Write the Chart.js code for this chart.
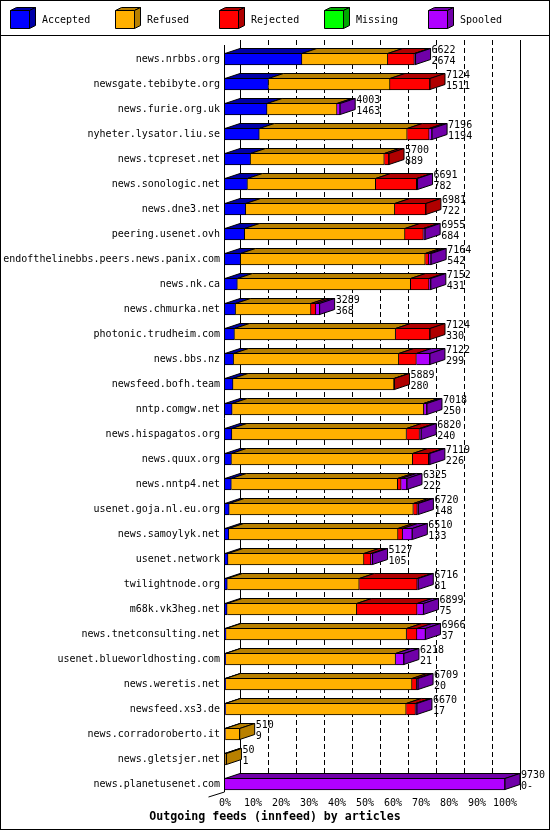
<!DOCTYPE html>
<html lang="en">
<head>
<meta charset="UTF-8">
<title>Outgoing feeds (innfeed) by articles</title>
<script src="https://cdn.jsdelivr.net/npm/chart.js"></script>
<style>
    html, body { margin: 0; padding: 0; background: #fff; }
    canvas { display: block; }
</style>
</head>
<body>
<canvas id="feedChart" width="550" height="830"></canvas>
<script>
// peers, top to bottom
const hosts = [
    'news.nrbbs.org', 'newsgate.tebibyte.org', 'news.furie.org.uk', 'nyheter.lysator.liu.se',
    'news.tcpreset.net', 'news.sonologic.net', 'news.dne3.net', 'peering.usenet.ovh',
    'endofthelinebbs.peers.news.panix.com', 'news.nk.ca', 'news.chmurka.net', 'photonic.trudheim.com',
    'news.bbs.nz', 'newsfeed.bofh.team', 'nntp.comgw.net', 'news.hispagatos.org',
    'news.quux.org', 'news.nntp4.net', 'usenet.goja.nl.eu.org', 'news.samoylyk.net',
    'usenet.network', 'twilightnode.org', 'm68k.vk3heg.net', 'news.tnetconsulting.net',
    'usenet.blueworldhosting.com', 'news.weretis.net', 'newsfeed.xs3.de', 'news.corradoroberto.it',
    'news.gletsjer.net', 'news.planetusenet.com'
];

// offered articles (first number next to each bar)
const offered = [6622, 7124, 4003, 7196, 5700, 6691, 6981, 6955, 7164, 7152, 3289, 7124, 7122, 5889, 7018,
                 6820, 7119, 6325, 6720, 6510, 5127, 6716, 6899, 6966, 6218, 6709, 6670, 510, 50, 9730];

const accepted = [2674, 1511, 1463, 1194, 889, 782, 722, 684, 542, 431, 368, 330, 299, 280, 250,
                  240, 226, 222, 148, 133, 105, 81, 75, 37, 21, 20, 17, 9, 1, 0];
const refused = [2983, 4223, 2430, 5138, 4648, 4454, 5179, 5571, 6417, 6021, 2620, 5599, 5741, 5594, 6658,
                 6068, 6297, 5778, 6398, 5880, 4724, 4585, 4503, 6273, 5907, 6479, 6280, 501, 49, 0];
const rejected = [925, 1390, 0, 764, 163, 1425, 1080, 640, 125, 640, 170, 1195, 612, 15, 10,
                  452, 556, 125, 139, 160, 243, 2015, 2099, 361, 0, 160, 323, 0, 0, 0];
const missing = [0, 0, 0, 0, 0, 0, 0, 0, 0, 0, 0, 0, 0, 0, 0,
                 0, 0, 0, 0, 0, 0, 0, 0, 0, 0, 0, 0, 0, 0, 0];
const spooled = [40, 0, 110, 100, 0, 30, 0, 60, 80, 60, 131, 0, 470, 0, 100,
                 60, 40, 200, 35, 337, 55, 35, 222, 295, 290, 50, 50, 0, 0, 9730];

const seriesNames = ['Accepted', 'Refused', 'Rejected', 'Missing', 'Spooled'];
const seriesValues = [accepted, refused, rejected, missing, spooled];
const frontColors = ['#0000ff', '#ffb000', '#ff0000', '#00ff00', '#b000ff'];
const darkColors = ['#0000a8', '#b88000', '#b00000', '#00a800', '#7000a8'];

const maxTotal = Math.max(...offered);
const DX = 15, DY = 5;   // depth of the 3d effect
const FONT = '"DejaVu Sans Mono", "Liberation Mono", monospace';

Chart.defaults.font.family = FONT;
Chart.defaults.color = '#000';

function poly(ctx, pts, fill) {
    ctx.beginPath();
    ctx.moveTo(pts[0][0], pts[0][1]);
    for (let i = 1; i < pts.length; i++) ctx.lineTo(pts[i][0], pts[i][1]);
    ctx.closePath();
    ctx.fillStyle = fill;
    ctx.fill();
    ctx.strokeStyle = '#000';
    ctx.lineWidth = 1;
    ctx.stroke();
}

// frame + legend across the top
const framePlugin = {
    id: 'frame',
    beforeDraw(chart) {
        const ctx = chart.ctx;
        ctx.save();
        ctx.fillStyle = '#fff';
        ctx.fillRect(0, 0, chart.width, chart.height);
        ctx.strokeStyle = '#000';
        ctx.lineWidth = 1;
        ctx.strokeRect(0.5, 0.5, chart.width - 1, chart.height - 1);
        ctx.beginPath();
        ctx.moveTo(0, 35.5);
        ctx.lineTo(chart.width, 35.5);
        ctx.stroke();

        ctx.font = '10px ' + FONT;
        ctx.textBaseline = 'middle';
        seriesNames.forEach((name, k) => {
            const bx = 10.5 + Math.round(104.5 * k);
            poly(ctx, [[bx, 10.5], [bx + 6, 7.5], [bx + 25, 7.5], [bx + 19, 10.5]], darkColors[k]);
            poly(ctx, [[bx + 19, 10.5], [bx + 25, 7.5], [bx + 25, 25.5], [bx + 19, 28.5]], darkColors[k]);
            poly(ctx, [[bx, 10.5], [bx + 19, 10.5], [bx + 19, 28.5], [bx, 28.5]], frontColors[k]);
            ctx.fillStyle = '#000';
            ctx.fillText(name, bx + 31.5, 20);
        });
        ctx.restore();
    }
};

// back wall grid and the floor edge
const wallPlugin = {
    id: 'wall',
    beforeDatasetsDraw(chart) {
        const ctx = chart.ctx;
        const xs = chart.scales.x;
        const area = chart.chartArea;
        const top = area.top - 6.5, bottom = area.bottom - 6.5;
        ctx.save();
        ctx.strokeStyle = '#000';
        ctx.lineWidth = 1;
        for (let k = 0; k <= 10; k++) {
            const x = Math.round(xs.getPixelForValue(maxTotal * k / 10)) + DX + 0.5;
            ctx.setLineDash(k === 0 || k === 10 ? [] : [5, 3]);
            ctx.beginPath();
            ctx.moveTo(x, top);
            ctx.lineTo(x, bottom);
            ctx.stroke();
        }
        ctx.setLineDash([]);
        const x0 = Math.round(area.left) - 0.5;
        ctx.beginPath();
        ctx.moveTo(x0, area.top - 1.5);
        ctx.lineTo(x0, area.bottom - 4.5);
        ctx.lineTo(x0 - 16, area.bottom + 0.5);
        ctx.stroke();
        ctx.restore();
    }
};

// top and side faces of the bars, plus the numbers
const facesPlugin = {
    id: 'faces',
    afterDatasetsDraw(chart) {
        const ctx = chart.ctx;
        const xs = chart.scales.x;
        ctx.save();
        for (let i = 0; i < hosts.length; i++) {
            let last = null, lastK = -1, y = 0, h = 0;
            seriesValues.forEach((vals, k) => {
                const el = chart.getDatasetMeta(k).data[i];
                const p = el.getProps(['x', 'y', 'base', 'height'], true);
                y = p.y; h = p.height;
                if (vals[i] <= 0) return;
                const x1 = Math.min(p.x, p.base), x2 = Math.max(p.x, p.base);
                const t = p.y - p.height / 2 + 0.5;
                poly(ctx, [[x1, t], [x1 + DX, t - DY], [x2 + DX, t - DY], [x2, t]], darkColors[k]);
                last = { x2, t, h: p.height };
                lastK = k;
            });
            if (last) {
                const { x2, t } = last;
                poly(ctx, [[x2, t], [x2 + DX, t - DY], [x2 + DX, t - DY + h - 1], [x2, t + h - 1]], darkColors[lastK]);
            }
            const xe = xs.getPixelForValue(offered[i]) + DX + 1;
            ctx.fillStyle = '#000';
            ctx.font = '10px ' + FONT;
            ctx.textBaseline = 'middle';
            ctx.textAlign = 'left';
            ctx.fillText(String(offered[i]), xe, y - 9);
            ctx.fillText(accepted[i] === 0 ? '0-' : String(accepted[i]), xe, y + 2);
        }
        ctx.restore();
    },
    afterDraw(chart) {
        const ctx = chart.ctx;
        ctx.save();
        ctx.fillStyle = '#000';
        ctx.font = 'bold 11.6px ' + FONT;
        ctx.textAlign = 'center';
        ctx.textBaseline = 'middle';
        ctx.fillText('Outgoing feeds (innfeed) by articles', 275, 817);
        ctx.restore();
    }
};

new Chart(document.getElementById('feedChart'), {
    type: 'bar',
    data: {
        labels: hosts,
        datasets: seriesNames.map((name, k) => ({
            label: name,
            data: seriesValues[k],
            backgroundColor: frontColors[k],
            borderColor: '#000',
            borderWidth: 1,
            borderSkipped: 'start',
            barThickness: 12
        }))
    },
    options: {
        indexAxis: 'y',
        responsive: false,
        animation: false,
        layout: { padding: { top: 46.5, right: 45, bottom: 19.5, left: 0 } },
        plugins: {
            legend: { display: false },
            tooltip: { enabled: false }
        },
        scales: {
            x: {
                stacked: true,
                min: 0,
                max: maxTotal,
                grid: { display: false, drawTicks: false },
                border: { display: false },
                ticks: {
                    stepSize: maxTotal / 10,
                    autoSkip: false,
                    maxRotation: 0,
                    padding: 1,
                    font: { size: 10 },
                    callback: v => Math.round(v / maxTotal * 100) + '%'
                },
                afterFit: s => { s.height = 14; }
            },
            y: {
                stacked: true,
                grid: { display: false, drawTicks: false },
                border: { display: false },
                ticks: { autoSkip: false, padding: 5, font: { size: 10 } },
                afterFit: s => { s.width = 225; }
            }
        }
    },
    plugins: [framePlugin, wallPlugin, facesPlugin]
});
</script>
</body>
</html>
